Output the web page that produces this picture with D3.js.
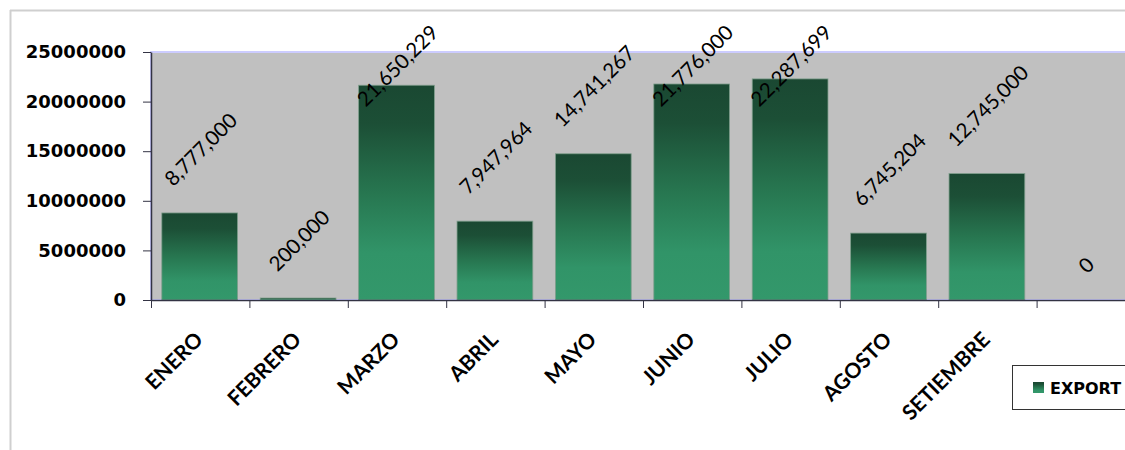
<!DOCTYPE html>
<html>
<head>
<meta charset="utf-8">
<script src="https://cdn.jsdelivr.net/npm/d3@7/dist/d3.min.js"></script>
<style>
  html, body { margin: 0; padding: 0; background: #ffffff; overflow: hidden; }
  svg { display: block; }
</style>
</head>
<body>
<svg id="chart" width="1125" height="450"></svg>
<script>
// Monthly export values
const categories = ["ENERO", "FEBRERO", "MARZO", "ABRIL", "MAYO", "JUNIO", "JULIO", "AGOSTO", "SETIEMBRE", ""];
const exportValues = [8777000, 200000, 21650229, 7947964, 14741267, 21776000, 22287699, 6745204, 12745000, 0];
const yTicks = [0, 5000000, 10000000, 15000000, 20000000, 25000000];
const seriesName = "EXPORT";

const svg = d3.select("#chart");
const W = 1125, H = 450;
const plot = { left: 151, right: 1135, top: 52, bottom: 300 };

const x = d3.scaleBand().domain(categories).range([plot.left, plot.right]).padding(0);
const xEdge = d3.scaleLinear().domain([0, categories.length]).range([plot.left, plot.right]);
const y = d3.scaleLinear().domain([0, 25000000]).range([plot.bottom, plot.top]);

const defs = svg.append("defs");
const grad = defs.append("linearGradient")
  .attr("id", "barGrad").attr("x1", 0).attr("y1", 0).attr("x2", 0).attr("y2", 1);
[[0, "#1a4832"], [0.18, "#1c4f36"], [0.5, "#277650"], [0.78, "#319468"], [1, "#33986b"]]
  .forEach(([o, c]) => grad.append("stop").attr("offset", o).attr("stop-color", c));

// outer chart frame
svg.append("line").attr("x1", 10.5).attr("x2", 10.5).attr("y1", 10).attr("y2", H)
  .attr("stroke", "#cfcfcf").attr("stroke-width", 2);
svg.append("line").attr("x1", 10).attr("x2", W).attr("y1", 10.5).attr("y2", 10.5)
  .attr("stroke", "#cfcfcf").attr("stroke-width", 2);

// plot area
svg.append("rect")
  .attr("x", plot.left).attr("y", plot.top)
  .attr("width", plot.right - plot.left).attr("height", plot.bottom - plot.top)
  .attr("fill", "#c0c0c0").attr("stroke", "#ccccff").attr("stroke-width", 2);

// bars
const barInset = 0.11, barFrac = 0.77;
svg.append("g").selectAll("rect")
  .data(categories.map((c, i) => ({ c, v: exportValues[i] })))
  .join("rect")
  .attr("x", d => x(d.c) + x.bandwidth() * barInset)
  .attr("width", x.bandwidth() * barFrac)
  .attr("y", d => y(d.v))
  .attr("height", d => y(0) - y(d.v))
  .attr("fill", "url(#barGrad)")
  .attr("stroke", "#7f9e8c").attr("stroke-width", d => d.v > 0 ? 0.8 : 0);

// y axis
const yAxis = svg.append("g")
  .attr("transform", `translate(${plot.left},0)`)
  .call(d3.axisLeft(y).tickValues(yTicks).tickFormat(d3.format("d"))
    .tickSizeInner(8).tickSizeOuter(0).tickPadding(17));
yAxis.select(".domain").attr("stroke", "#333344").attr("stroke-width", 1.5);
yAxis.selectAll(".tick line").attr("stroke", "#333344");
yAxis.selectAll(".tick text")
  .attr("font-family", "'DejaVu Sans', sans-serif").attr("font-weight", "bold")
  .attr("font-size", 18).attr("fill", "#000");

// x axis (ticks between categories)
const xAxis = svg.append("g")
  .attr("transform", `translate(0,${plot.bottom})`)
  .call(d3.axisBottom(xEdge).tickValues(d3.range(categories.length + 1))
    .tickFormat("").tickSizeInner(8).tickSizeOuter(0));
xAxis.select(".domain").attr("stroke", "#333344").attr("stroke-width", 1.5);
xAxis.selectAll(".tick line").attr("stroke", "#333344");

// category labels
svg.append("g").selectAll("text")
  .data(categories)
  .join("text")
  .attr("transform", d => `translate(${x(d) + x.bandwidth() / 2 + 4},341) rotate(-45)`)
  .attr("text-anchor", "end")
  .attr("font-family", "Lato, 'Open Sans', sans-serif").attr("font-weight", "bold")
  .attr("font-size", 21).attr("fill", "#000")
  .text(d => d);

// value labels, rotated, above each bar and kept inside the chart area
const fmt = d3.format(",");
const labelFont = 20.5, capH = labelFont * 0.72, gap = 26, minTop = 23;
const vl = svg.append("g").selectAll("text")
  .data(categories.map((c, i) => ({ c, v: exportValues[i] })))
  .join("text")
  .attr("text-anchor", "middle").attr("dominant-baseline", "central")
  .attr("font-family", "Lato, 'Open Sans', sans-serif")
  .attr("font-size", labelFont).attr("fill", "#000")
  .text(d => fmt(d.v));
vl.each(function (d) {
  const len = this.getComputedTextLength();
  const half = 0.7071 * (len + capH) / 2;
  const cx = x(d.c) + x.bandwidth() / 2;
  let cy = y(d.v) - gap - half;
  if (cy - half < minTop) cy = minTop + half;
  d3.select(this).attr("transform", `translate(${cx},${cy}) rotate(-45)`);
});

// legend
const lg = svg.append("g");
lg.append("rect").attr("x", 1012.5).attr("y", 365.5).attr("width", 200).attr("height", 44)
  .attr("fill", "#fff").attr("stroke", "#333").attr("stroke-width", 1);
lg.append("rect").attr("x", 1033).attr("y", 382).attr("width", 11).attr("height", 11)
  .attr("fill", "url(#barGrad)");
lg.append("text").attr("x", 1050).attr("y", 394)
  .attr("font-family", "'DejaVu Sans', sans-serif").attr("font-weight", "bold")
  .attr("font-size", 16).attr("fill", "#000").text(seriesName);
</script>
</body>
</html>
